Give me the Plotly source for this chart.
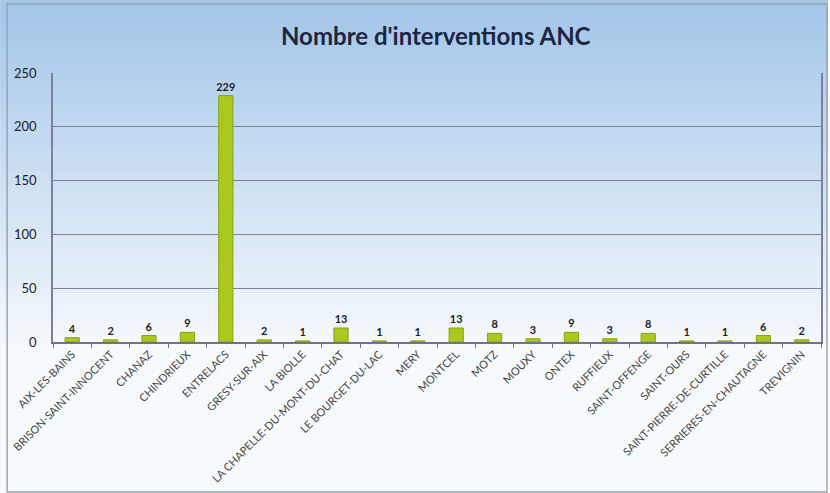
import plotly.graph_objects as go

communes = ["AIX-LES-BAINS", "BRISON-SAINT-INNOCENT", "CHANAZ", "CHINDRIEUX", "ENTRELACS",
            "GRESY-SUR-AIX", "LA BIOLLE", "LA CHAPELLE-DU-MONT-DU-CHAT", "LE BOURGET-DU-LAC",
            "MERY", "MONTCEL", "MOTZ", "MOUXY", "ONTEX", "RUFFIEUX", "SAINT-OFFENGE",
            "SAINT-OURS", "SAINT-PIERRE-DE-CURTILLE", "SERRIERES-EN-CHAUTAGNE", "TREVIGNIN"]
interventions = [4, 2, 6, 9, 229, 2, 1, 13, 1, 1, 13, 8, 3, 9, 3, 8, 1, 1, 6, 2]
y_ticks = [0, 50, 100, 150, 200, 250]

W, H = 830, 493
ML, MR, MT, MB = 53, 7, 73, 151
pw, ph = W - ML - MR, H - MT - MB

def px_to_paper_x(px):
    return (px - ML) / pw

def px_to_paper_y(py):
    return (H - MB - py) / ph

# gradient background via overlapping strips
shapes = []
n = 60
top = (162, 197, 233)
bot = (247, 250, 253)
for i in range(n):
    y0 = i * H / n
    y1 = (i + 1) * H / n + 3
    t = min(1.0, (i + 0.5) / n / 0.72)
    c = tuple(int(round(top[k] + (bot[k] - top[k]) * t)) for k in range(3))
    shapes.append(dict(type="rect", xref="paper", yref="paper", layer="below",
                       x0=px_to_paper_x(0), x1=px_to_paper_x(W),
                       y0=px_to_paper_y(min(y1, H)), y1=px_to_paper_y(y0),
                       fillcolor="rgb(%d,%d,%d)" % c, line=dict(width=0)))
# outer frame
shapes.append(dict(type="rect", xref="paper", yref="paper", layer="below",
                   x0=px_to_paper_x(7), x1=px_to_paper_x(829),
                   y0=px_to_paper_y(492), y1=px_to_paper_y(4),
                   fillcolor="rgba(0,0,0,0)", line=dict(color="#9aa3b0", width=1.5)))

fig = go.Figure()
fig.add_trace(go.Bar(
    x=communes, y=interventions, width=0.37,
    marker=dict(color="#aac81e", line=dict(color="#86a212", width=1)),
    text=[str(v) for v in interventions], textposition="outside",
    constraintext="none",
    textfont=dict(family="Lato", size=11, color="#1e1e1e", weight="bold"),
    cliponaxis=False,
))

fig.update_layout(
    width=W, height=H,
    margin=dict(l=ML, r=MR, t=MT, b=MB, pad=0),
    paper_bgcolor="white", plot_bgcolor="rgba(0,0,0,0)",
    shapes=shapes,
    showlegend=False,
    title=dict(text="<b>Nombre d'interventions ANC</b>", x=0.525, xanchor="center",
               y=1 - 37 / H, yanchor="middle",
               font=dict(family="Lato", size=24, color="#1c2640")),
    xaxis=dict(tickangle=-45, tickfont=dict(family="Lato", size=11, color="#444444"),
               showline=True, linecolor="#6e7388", linewidth=1.5,
               ticks="outside", ticklen=4, tickcolor="#6e7388", tickson="boundaries",
               showgrid=False, range=[-0.5, 19.5]),
    yaxis=dict(range=[0, 250], tickvals=y_ticks,
               tickfont=dict(family="Lato", size=13, color="#222222"),
               showgrid=True, gridcolor="#7c8199", gridwidth=1,
               showline=True, linecolor="#7c8199", linewidth=1.5, mirror=True,
               ticks="", ticklabelstandoff=12, zeroline=False),
    bargap=0.6,
)

fig.write_html("out.html", config={"displayModeBar": False},
               post_script="document.body.style.margin='0';document.body.style.overflow='hidden';")
